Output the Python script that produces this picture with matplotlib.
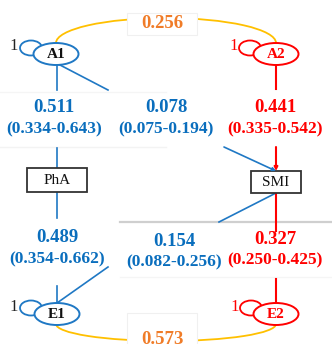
import matplotlib.pyplot as plt
from matplotlib.patches import Ellipse, Arc, Rectangle

# path coefficients and 95% intervals
coef = [0.511, 0.078, 0.441, 0.489, 0.154, 0.327]
ci_low = [0.334, 0.075, 0.335, 0.354, 0.082, 0.250]
ci_high = [0.643, 0.194, 0.542, 0.662, 0.256, 0.425]
corr = [0.256, 0.573]
latent = ["A1", "A2", "E1", "E2"]
observed = ["PhA", "SMI"]
loop_value = [1, 1, 1, 1]

blue = "#1f78c4"
blue_txt = "#0a6ebd"
red = "#ff0000"
orange = "#f07c28"
gold = "#ffc000"

fig = plt.figure(figsize=(3.32, 3.44), dpi=100)
ax = fig.add_axes([0, 0, 1, 1])
ax.set_xlim(0, 332)
ax.set_ylim(344, 0)
ax.axis("off")

serif = ["Liberation Serif", "DejaVu Serif"]

# faint table rules behind the figure
ax.plot([120, 332], [222, 222], color="#cfcfcf", lw=1.6, zorder=0)
ax.plot([0, 166], [92, 92], color="#f5f5f5", lw=1, zorder=0)
ax.plot([0, 166], [147, 147], color="#f3f3f3", lw=1, zorder=0)
ax.plot([120, 332], [277, 277], color="#f5f5f5", lw=1, zorder=0)

# latent nodes
node_xy = [(56, 54), (276, 54), (57, 314), (276, 314)]
node_col = [blue, red, blue, red]
loop_xy = [(31, 48), (250, 48), (31, 308), (251, 308)]
one_xy = [(14, 46), (234, 46), (14, 307), (235, 307)]
for name, (x, y), c, (lx, ly), (tx, ty), v in zip(latent, node_xy, node_col, loop_xy, one_xy, loop_value):
    ax.add_patch(Ellipse((lx, ly), 22, 15, fill=False, ec=c, lw=1.3, zorder=2))
    ax.add_patch(Ellipse((x, y), 45, 22, fc="white", ec=c, lw=1.4, zorder=3))
    ax.text(x, y + 1, name, ha="center", va="center", family=serif, fontweight="bold",
            fontsize=11, color="#111111" if c == blue else red, zorder=4)
    ax.text(tx, ty, str(v), ha="center", va="center", family=serif, fontsize=12,
            color="#222222" if c == blue else red, zorder=4)

# observed boxes
box_xy = [(57, 180), (276, 182)]
box_wh = [(60, 24), (50, 22)]
for name, (x, y), (w, h) in zip(observed, box_xy, box_wh):
    ax.add_patch(Rectangle((x - w / 2, y - h / 2), w, h, fc="white", ec="#333333", lw=1.3, zorder=3))
    ax.text(x, y + 1, name, ha="center", va="center", family=serif, fontsize=11,
            color="#111111", zorder=4)

# paths
blue_segs = [((57, 65), (57, 90)), ((60, 65), (108, 90)),
             ((57, 148), (57, 168)), ((57, 192), (57, 218)),
             ((276, 193), (219, 222)),
             ((57, 286), (57, 303)), ((108, 267), (57, 303))]
for (x0, y0), (x1, y1) in blue_segs:
    ax.plot([x0, x1], [y0, y1], color=blue, lw=1.2, zorder=1)
ax.annotate("", xy=(276, 171), xytext=(224, 147),
            arrowprops=dict(arrowstyle="-|>", color=blue, lw=1.2, mutation_scale=5, shrinkA=0, shrinkB=0))

red_segs = [((276, 65), (276, 89)), ((276, 193), (276, 231)), ((276, 279), (276, 303))]
for (x0, y0), (x1, y1) in red_segs:
    ax.plot([x0, x1], [y0, y1], color=red, lw=1.5, zorder=1)
ax.annotate("", xy=(276, 171), xytext=(276, 147),
            arrowprops=dict(arrowstyle="-|>", color=red, lw=1.5, mutation_scale=5, shrinkA=0, shrinkB=0))

# coefficient labels
lab_x = [54, 166, 275, 57, 174, 275]
lab_y = [108, 108, 108, 238, 241, 239]
lab_col = [blue_txt, blue_txt, red, blue_txt, blue_txt, red]
for v, lo, hi, x, y, c in zip(coef, ci_low, ci_high, lab_x, lab_y, lab_col):
    ax.text(x, y, f"{v:.3f}", ha="center", va="center", family=serif, fontweight="bold",
            fontsize=13.5, color=c)
    ax.text(x, y + 21, f"({lo:.3f}-{hi:.3f})", ha="center", va="center", family=serif,
            fontweight="bold", fontsize=12.5, color=c)

# correlation arcs with their label boxes
ax.add_patch(Arc((166, 43), 220, 50, theta1=180, theta2=360, color=gold, lw=1.3, zorder=1))
ax.add_patch(Arc((166, 324), 220, 34, theta1=0, theta2=180, color=gold, lw=1.3, zorder=1))
ax.add_patch(Rectangle((127, 13), 70, 22, fc="white", ec="#f0f0f0", lw=0.8, zorder=2))
ax.add_patch(Rectangle((127, 313), 70, 40, fc="white", ec="#f0f0f0", lw=0.8, zorder=2))
for v, y in zip(corr, [24, 340]):
    ax.text(162, y, f"{v:.3f}", ha="center", va="center", family=serif, fontweight="bold",
            fontsize=13.5, color=orange, zorder=4)

fig.savefig("out.png", dpi=100)
